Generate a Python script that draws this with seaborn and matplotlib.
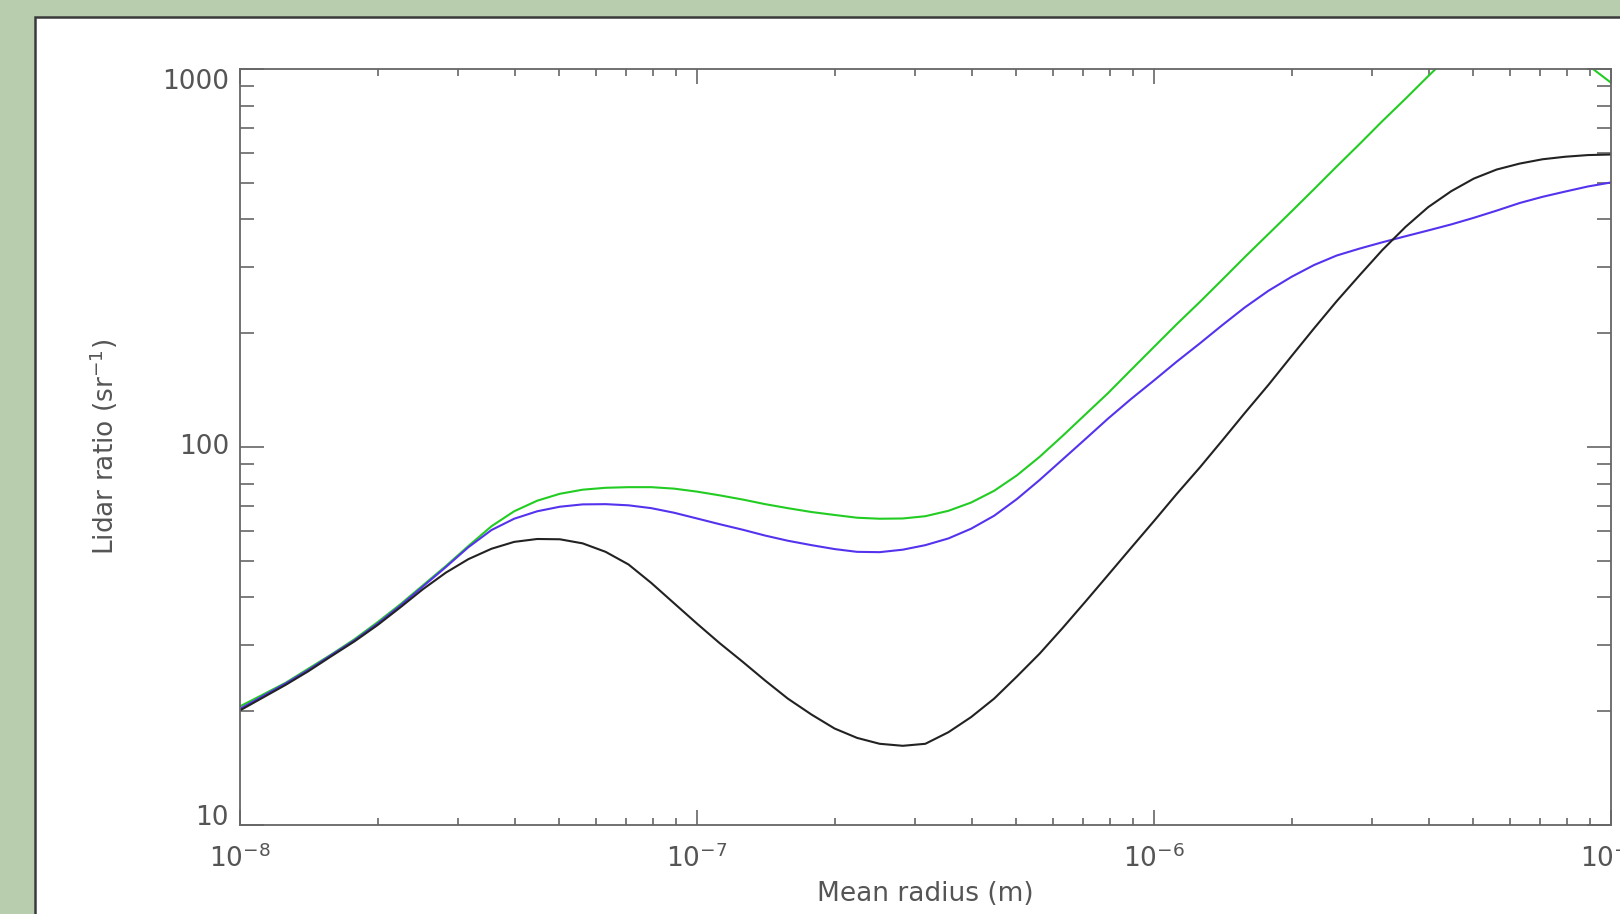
import pandas as pd
import seaborn as sns
import matplotlib.pyplot as plt
from matplotlib.patches import Rectangle
from matplotlib.ticker import LogLocator, NullFormatter, FixedLocator, FixedFormatter

# mean radius (m), common grid for the three curves
radius = [1.00e-8, 1.12e-8, 1.26e-8, 1.41e-8, 1.58e-8, 1.78e-8, 2.00e-8, 2.24e-8, 2.51e-8, 2.82e-8,
          3.16e-8, 3.55e-8, 3.98e-8, 4.47e-8, 5.01e-8, 5.62e-8, 6.31e-8, 7.08e-8, 7.94e-8, 8.91e-8,
          1.00e-7, 1.12e-7, 1.26e-7, 1.41e-7, 1.58e-7, 1.78e-7, 2.00e-7, 2.24e-7, 2.51e-7, 2.82e-7,
          3.16e-7, 3.55e-7, 3.98e-7, 4.47e-7, 5.01e-7, 5.62e-7, 6.31e-7, 7.08e-7, 7.94e-7, 8.91e-7,
          1.00e-6, 1.12e-6, 1.26e-6, 1.41e-6, 1.58e-6, 1.78e-6, 2.00e-6, 2.24e-6, 2.51e-6, 2.82e-6,
          3.16e-6, 3.55e-6, 3.98e-6, 4.47e-6, 5.01e-6, 5.62e-6, 6.31e-6, 7.08e-6, 7.94e-6, 8.91e-6,
          1.00e-5]

# lidar ratio (sr-1)
lr_black = [20.1, 21.7, 23.5, 25.5, 27.9, 30.6, 33.8, 37.6, 42.0, 46.5,
            50.5, 53.8, 56.1, 57.1, 57.0, 55.6, 52.8, 48.9, 43.7, 38.6,
            34.1, 30.3, 27.0, 24.1, 21.6, 19.6, 18.0, 17.0, 16.4, 16.2,
            16.4, 17.6, 19.3, 21.6, 24.7, 28.4, 33.2, 39.0, 45.9, 54.1,
            63.7, 75.0, 88.3, 104, 123, 146, 174, 206, 243, 285,
            332, 382, 431, 475, 513, 542, 562, 577, 586, 592,
            594]
lr_blue = [20.3, 21.9, 23.7, 25.7, 28.1, 30.8, 34.1, 38.0, 42.7, 48.1,
           54.3, 60.3, 64.6, 67.6, 69.5, 70.5, 70.6, 70.1, 68.9, 67.0,
           64.7, 62.5, 60.4, 58.3, 56.5, 55.0, 53.7, 52.8, 52.7, 53.5,
           55.0, 57.3, 60.8, 65.8, 72.8, 81.8, 92.7, 105, 119, 134,
           150, 168, 188, 210, 234, 259, 282, 303, 321, 335,
           348, 361, 374, 388, 404, 422, 442, 459, 474, 489,
           501]
lr_green = [20.6, 22.1, 23.8, 25.9, 28.2, 31.0, 34.4, 38.3, 43.0, 48.4,
            54.7, 61.7, 67.6, 72.1, 75.2, 77.1, 78.0, 78.3, 78.3, 77.6,
            76.2, 74.5, 72.6, 70.6, 68.9, 67.3, 66.1, 65.0, 64.6, 64.7,
            65.6, 67.8, 71.3, 76.6, 84.1, 94.2, 107, 122, 139, 160,
            184, 211, 242, 277, 318, 366, 420, 481, 552, 634,
            728, 834, 957, 1096, 1259, 1320, 1380, 1270, 1150, 1023,
            920]

xtick_vals = [1e-8, 1e-7, 1e-6, 1e-5]
xtick_labels = ['$10^{-8}$', '$10^{-7}$', '$10^{-6}$', '$10^{-5}$']
ytick_vals = [10, 100, 1000]
ytick_labels = ['10', '100', '1000']

sns.set_theme(style="ticks")
plt.rcParams['font.family'] = ['DejaVu Sans']
plt.rcParams['mathtext.fontset'] = 'dejavusans'

txt = '#555555'
W, H = 1620, 914
fig = plt.figure(figsize=(W / 100, H / 100), dpi=100, facecolor='#b7cdae')

# white panel with dark border (runs off right and bottom edges)
fig.patches.append(Rectangle((35 / W, -0.1), 1.2, (H - 17) / H + 0.1, transform=fig.transFigure,
                             facecolor='white', edgecolor='#3a3a3a', linewidth=1.8, zorder=-10))

ax = fig.add_axes([240 / W, 1 - 825 / H, (1611 - 240) / W, (825 - 69) / H])
ax.set_facecolor('none')

for vals, col in [(lr_green, '#22cc22'), (lr_blue, '#5533ee'), (lr_black, '#222222')]:
    df = pd.DataFrame({'radius': radius, 'lr': vals})
    sns.lineplot(data=df, x='radius', y='lr', ax=ax, color=col, linewidth=1.5)

ax.set_xscale('log')
ax.set_yscale('log')
ax.set_xlim(1e-8, 1e-5)
ax.set_ylim(10, 1000)

ax.xaxis.set_major_locator(FixedLocator(xtick_vals))
ax.xaxis.set_major_formatter(FixedFormatter(xtick_labels))
ax.yaxis.set_major_locator(FixedLocator(ytick_vals))
ax.yaxis.set_major_formatter(FixedFormatter(ytick_labels))
ax.xaxis.set_minor_locator(LogLocator(base=10, subs=range(2, 10)))
ax.yaxis.set_minor_locator(LogLocator(base=10, subs=range(2, 10)))
ax.xaxis.set_minor_formatter(NullFormatter())
ax.yaxis.set_minor_formatter(NullFormatter())

for s in ax.spines.values():
    s.set_color('#666666')
    s.set_linewidth(1.3)

ax.tick_params(which='both', direction='in', top=True, right=True, color='#666666', width=1.2,
               labelcolor=txt, labelsize=19)
ax.tick_params(axis='x', which='major', length=11, pad=14)
ax.tick_params(axis='x', which='minor', length=5)
ax.tick_params(axis='y', which='major', length=17, pad=8)
ax.tick_params(axis='y', which='minor', length=10)

# IDL-style placement: lowest label sits above its tick, top one below
for lab, va in zip(ax.get_yticklabels(), ['baseline', 'center', 'top']):
    lab.set_va(va)

ax.set_xlabel('Mean radius (m)', fontsize=19, color=txt, labelpad=6)
ax.set_ylabel('Lidar ratio (sr$^{-1}$)', fontsize=19, color=txt, labelpad=30)

fig.savefig('out.png', dpi=100, facecolor=fig.get_facecolor())
